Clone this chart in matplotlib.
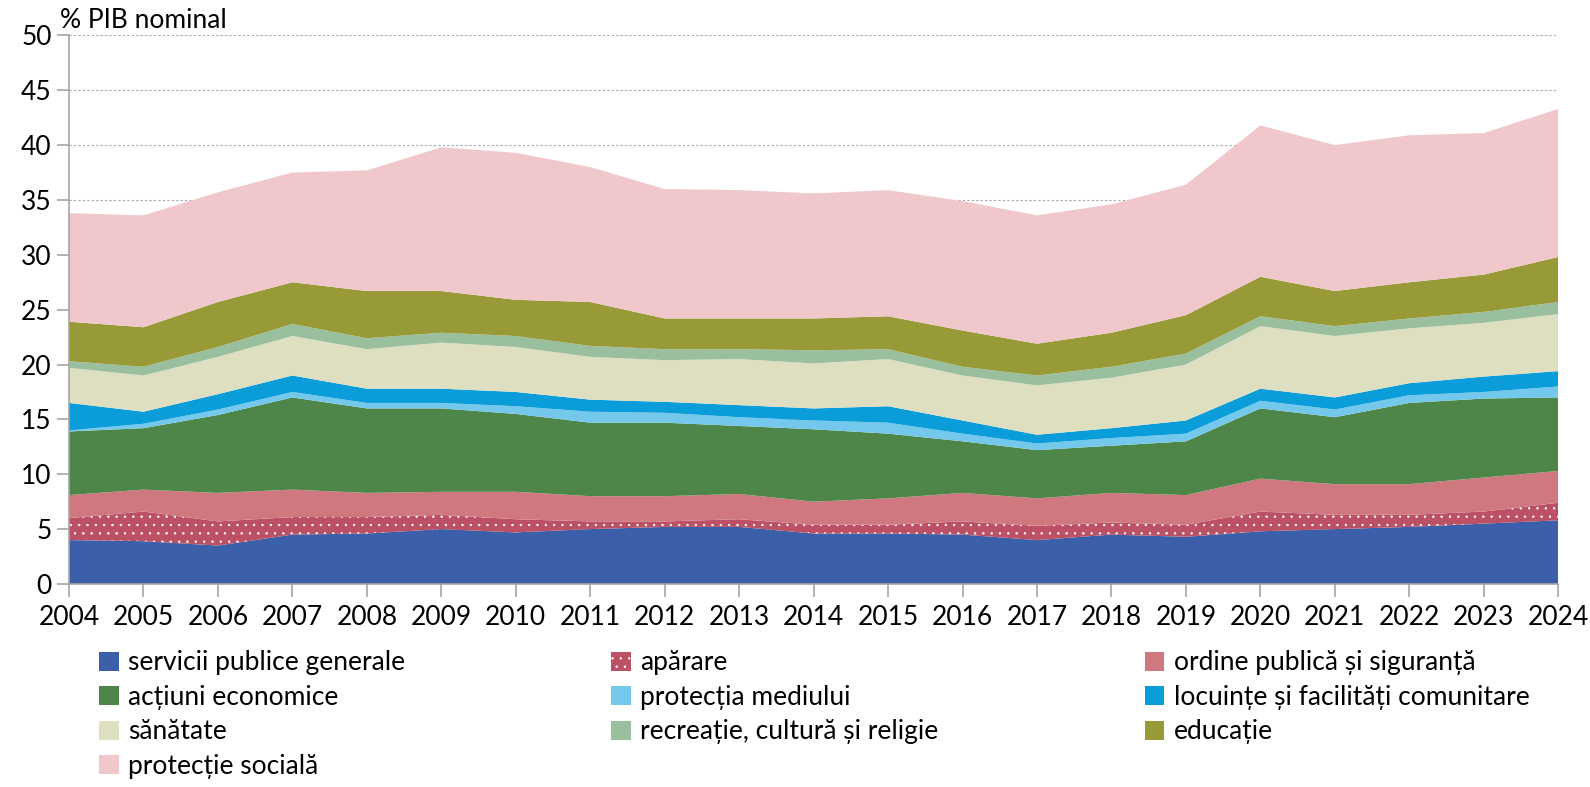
import numpy as np
import matplotlib.pyplot as plt

plt.rcParams['font.family'] = ['Lato', 'DejaVu Sans']
plt.rcParams['hatch.linewidth'] = 0.5

years = np.arange(2004, 2025)

# % PIB nominal, pe functii
servicii = [4.0, 3.9, 3.5, 4.5, 4.6, 5.0, 4.7, 5.0, 5.2, 5.2, 4.6, 4.6, 4.5, 4.0, 4.5, 4.3, 4.8, 5.0, 5.2, 5.5, 5.8]
aparare = [2.0, 2.7, 2.2, 1.6, 1.5, 1.3, 1.2, 0.7, 0.5, 0.7, 0.8, 0.8, 1.2, 1.3, 1.1, 1.1, 1.8, 1.3, 1.1, 1.1, 1.6]
ordine = [2.1, 2.0, 2.6, 2.5, 2.2, 2.1, 2.5, 2.3, 2.3, 2.3, 2.1, 2.4, 2.6, 2.5, 2.7, 2.7, 3.0, 2.8, 2.8, 3.1, 2.9]
actiuni = [5.8, 5.6, 7.1, 8.4, 7.7, 7.6, 7.1, 6.7, 6.7, 6.2, 6.6, 5.9, 4.7, 4.4, 4.3, 4.9, 6.4, 6.1, 7.4, 7.2, 6.7]
mediu = [0.1, 0.4, 0.5, 0.5, 0.5, 0.5, 0.7, 1.0, 0.9, 0.8, 0.8, 1.0, 0.7, 0.6, 0.7, 0.7, 0.7, 0.7, 0.7, 0.6, 1.0]
locuinte = [2.5, 1.1, 1.4, 1.5, 1.3, 1.3, 1.3, 1.1, 1.0, 1.1, 1.1, 1.5, 1.2, 0.8, 0.9, 1.2, 1.1, 1.1, 1.1, 1.4, 1.4]
sanatate = [3.2, 3.3, 3.4, 3.6, 3.6, 4.2, 4.1, 3.9, 3.8, 4.2, 4.1, 4.3, 4.1, 4.5, 4.6, 5.1, 5.7, 5.6, 5.0, 4.9, 5.2]
recreatie = [0.6, 0.8, 0.9, 1.1, 1.0, 0.9, 1.0, 1.0, 1.0, 0.9, 1.2, 0.9, 0.8, 0.9, 1.0, 1.0, 0.9, 0.9, 0.9, 1.0, 1.1]
educatie = [3.6, 3.6, 4.1, 3.8, 4.3, 3.8, 3.3, 4.0, 2.8, 2.8, 2.9, 3.0, 3.3, 2.9, 3.1, 3.5, 3.6, 3.2, 3.3, 3.4, 4.1]
protectie = [9.9, 10.2, 10.0, 10.0, 11.0, 13.1, 13.4, 12.3, 11.8, 11.7, 11.4, 11.5, 11.8, 11.7, 11.7, 11.9, 13.8, 13.3, 13.4, 12.9, 13.5]

labels = ['servicii publice generale', 'apărare', 'ordine publică și siguranță',
          'acțiuni economice', 'protecția mediului', 'locuințe și facilități comunitare',
          'sănătate', 'recreație, cultură și religie', 'educație', 'protecție socială']
colors = ['#3C5FA9', '#BC5064', '#D0787F', '#4E8649', '#74C8EC', '#0B9DD9',
          '#DEDFC0', '#9ABF9E', '#989A38', '#F0C8CC']

fig = plt.figure(figsize=(15.9, 7.87), dpi=100)
ax = fig.add_axes([0.0434, 0.258, 0.9366, 0.697])

polys = ax.stackplot(years, servicii, aparare, ordine, actiuni, mediu, locuinte,
                     sanatate, recreatie, educatie, protectie,
                     colors=colors, labels=labels, linewidth=0)
polys[1].set_hatch('..')
polys[1].set_edgecolor('white')
polys[1].set_linewidth(0)

ax.set_xlim(2004, 2024)
ax.set_ylim(0, 50)
ax.set_yticks(range(0, 51, 5))
ax.set_xticks(years)
ax.yaxis.grid(True, linestyle=(0, (2, 2)), color='#A6A6A6', linewidth=0.8)
ax.set_axisbelow(True)
for s in ['top', 'right']:
    ax.spines[s].set_visible(False)
for s in ['left', 'bottom']:
    ax.spines[s].set_color('#A6A6A6')
    ax.spines[s].set_linewidth(1.2)
ax.tick_params(axis='both', colors='#A6A6A6', labelcolor='black', labelsize=19,
               length=9, width=1.2)
ax.tick_params(axis='x', pad=6)

fig.text(0.038, 0.958, '% PIB nominal', fontsize=19, ha='left', va='bottom')

order = [0, 3, 6, 9, 1, 4, 7, 2, 5, 8]
handles, labs = ax.get_legend_handles_labels()
ax.legend([handles[i] for i in order], [labs[i] for i in order],
          ncol=3, loc='upper left', bbox_to_anchor=(0.0434 + 0.0125, 0.187),
          bbox_transform=fig.transFigure, frameon=False, fontsize=19,
          handlelength=0.75, handleheight=0.75, handletextpad=0.35,
          columnspacing=7.8, labelspacing=0.36, borderaxespad=0)

fig.savefig('out.png', dpi=100)
